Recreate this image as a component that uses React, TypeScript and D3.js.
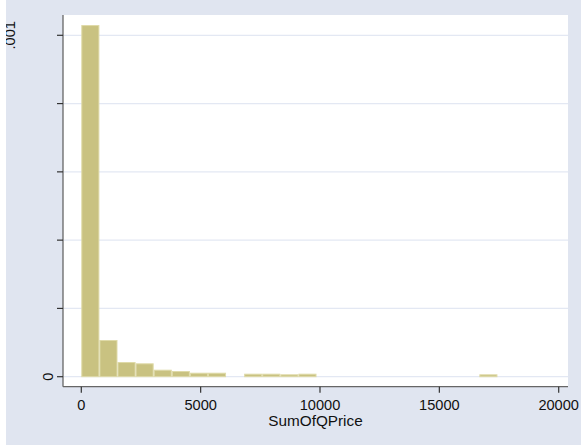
import React from "react";
import * as d3 from "d3";

// Histogram of SumOfQPrice: density per bin, equal-width bins starting at 0
const binWidth = 758;
const densities = [
  0.00103, 0.0001075, 0.000043, 0.0000392, 0.0000205, 0.0000167, 0.0000117,
  0.0000117, 0, 0.0000088, 0.0000088, 0.000007, 0.0000088, 0, 0, 0, 0, 0, 0,
  0, 0, 0, 0.000007,
];
const xTicks = [0, 5000, 10000, 15000, 20000];
const yTicks = [0, 0.0002, 0.0004, 0.0006, 0.0008, 0.001];
const yTickLabels: Record<string, string> = { "0": "0", "0.001": ".001" };
const xTitle = "SumOfQPrice";

const W = 581;
const H = 445;
const plot = { left: 63, right: 568, top: 15, bottom: 386.7 };
const font = "'Liberation Sans', Arial, sans-serif";

export default function App() {
  const x = d3.scaleLinear().domain([0, 20000]).range([81.3, 558.7]);
  const y = d3.scaleLinear().domain([0, 0.001]).range([376.7, 35.3]);

  const bins = densities.map((d, i) => ({
    x0: i * binWidth,
    x1: (i + 1) * binWidth,
    d,
  }));

  // rotated y labels sit at different baselines
  const yLabelBaseline: Record<string, number> = { "0": 52.5, "0.001": 14.5 };

  return (
    <div style={{ position: "fixed", left: 0, top: 0, width: W, height: H }}>
      <svg width={W} height={H} style={{ display: "block" }}>
        <rect x={0} y={0} width={W} height={H} fill="#e0e5f0" />
        <rect
          x={plot.left}
          y={plot.top}
          width={plot.right - plot.left}
          height={plot.bottom - plot.top}
          fill="#ffffff"
        />
        {yTicks.map((t) => (
          <line
            key={"g" + t}
            x1={plot.left}
            x2={plot.right}
            y1={y(t)}
            y2={y(t)}
            stroke="#e3e8f3"
            strokeWidth={1.2}
          />
        ))}
        {bins
          .filter((b) => b.d > 0)
          .map((b, i) => (
            <rect
              key={i}
              x={x(b.x0) + 0.5}
              y={y(b.d) + 0.5}
              width={x(b.x1) - x(b.x0) - 1}
              height={y(0) - y(b.d) - 0.5}
              fill="#c9c281"
              stroke="#dfdaa8"
              strokeWidth={1}
            />
          ))}
        {/* axes */}
        <line
          x1={plot.left}
          x2={plot.left}
          y1={plot.top}
          y2={plot.bottom}
          stroke="#666"
          strokeWidth={1.3}
        />
        <line
          x1={plot.left}
          x2={plot.right}
          y1={plot.bottom}
          y2={plot.bottom}
          stroke="#666"
          strokeWidth={1.3}
        />
        {yTicks.map((t) => (
          <line
            key={"yt" + t}
            x1={plot.left - 6}
            x2={plot.left}
            y1={y(t)}
            y2={y(t)}
            stroke="#333"
            strokeWidth={1.2}
          />
        ))}
        {yTicks
          .filter((t) => yTickLabels[String(t)] !== undefined)
          .map((t) => {
            const bx = yLabelBaseline[String(t)];
            return (
              <text
                key={"yl" + t}
                transform={`translate(${bx},${y(t)}) rotate(-90)`}
                textAnchor="middle"
                fontFamily={font}
                fontSize={14.6}
                fill="#111"
              >
                {yTickLabels[String(t)]}
              </text>
            );
          })}
        {/* white margin strip along the left edge */}
        <rect x={0} y={0} width={6} height={H} fill="#ffffff" />
        {xTicks.map((t) => (
          <g key={"xt" + t}>
            <line
              x1={x(t)}
              x2={x(t)}
              y1={plot.bottom}
              y2={plot.bottom + 6}
              stroke="#333"
              strokeWidth={1.2}
            />
            <text
              x={x(t)}
              y={410}
              textAnchor="middle"
              fontFamily={font}
              fontSize={14.6}
              fill="#111"
            >
              {t}
            </text>
          </g>
        ))}
        <text
          x={(plot.left + plot.right) / 2}
          y={425.5}
          textAnchor="middle"
          fontFamily={font}
          fontSize={15.3}
          fill="#111"
        >
          {xTitle}
        </text>
      </svg>
    </div>
  );
}
